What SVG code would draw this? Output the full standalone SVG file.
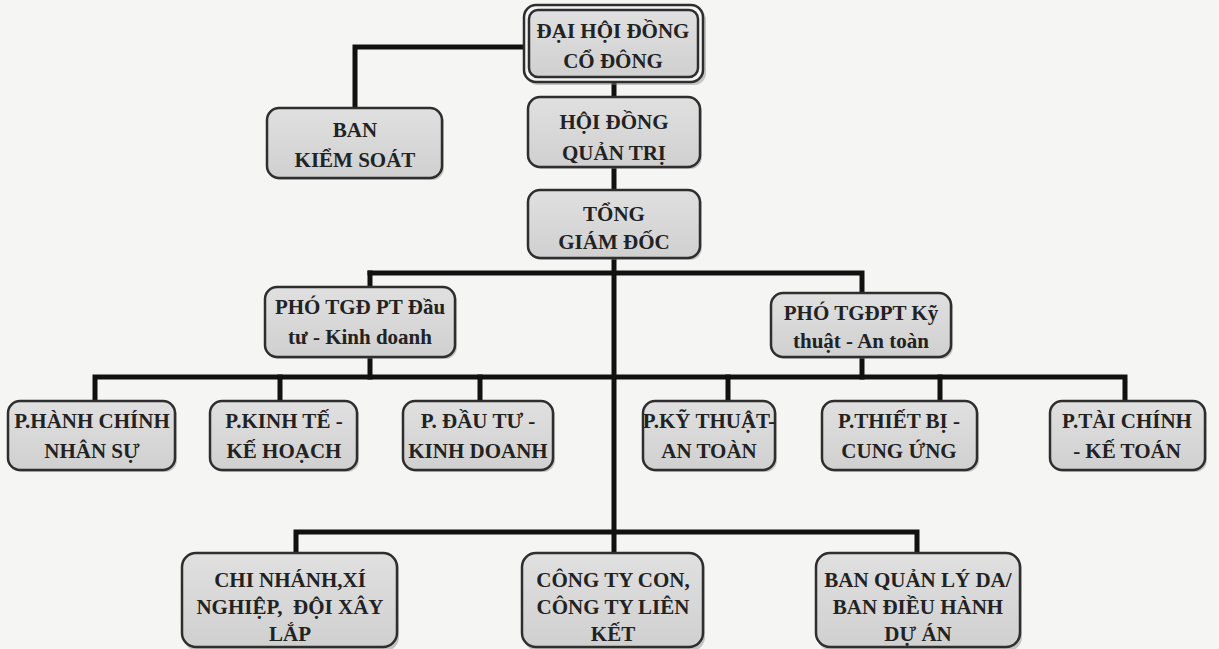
<svg xmlns="http://www.w3.org/2000/svg" width="1219" height="649" viewBox="0 0 1219 649">
<defs>
<linearGradient id="g" x1="0" y1="0" x2="0" y2="1">
<stop offset="0" stop-color="#e0e0e0"/>
<stop offset="1" stop-color="#d0d0d0"/>
</linearGradient>
<style>
.box{fill:url(#g);stroke:#2e2e2e;stroke-width:2.5}
.sh{fill:#8a8a8a;opacity:0.45}
.t{font-family:"Liberation Serif","Times New Roman",serif;font-weight:bold;font-size:21px;fill:#222;text-anchor:middle}
.c{fill:none;stroke:#111;stroke-width:5;stroke-linejoin:miter;stroke-linecap:square}
</style>
</defs>
<rect width="1219" height="649" fill="#f5f5f3"/>
<g id="connectors">
<path class="c" d="M524 47 H355 V106"/>
<path class="c" d="M614 83 V96"/>
<path class="c" d="M614 168 V189"/>
<path class="c" d="M614 259 V551"/>
<path class="c" d="M370 273 H862 V291"/>
<path class="c" d="M370 273 V285"/>
<path class="c" d="M370 358 V377"/>
<path class="c" d="M862 358 V377"/>
<path class="c" d="M95 400 V377 H1125 V400"/>
<path class="c" d="M280 377 V400"/>
<path class="c" d="M480 377 V400"/>
<path class="c" d="M728 377 V400"/>
<path class="c" d="M940 377 V400"/>
<path class="c" d="M296 551 V532 H917 V551"/>
</g>
<g id="dhdcd">
<rect class="sh" x="526" y="8" width="180" height="77" rx="12"/>
<rect x="524" y="5" width="179" height="77" rx="12" fill="#f4f4f4" stroke="#2e2e2e" stroke-width="2.5"/>
<rect class="box" x="529" y="10" width="169" height="67" rx="9"/>
<text class="t" x="613" y="38">ĐẠI HỘI ĐỒNG</text>
<text class="t" x="613" y="68">CỔ ĐÔNG</text>
</g>
<g id="bks">
<rect class="sh" x="269" y="110" width="175" height="70" rx="12"/>
<rect class="box" x="267" y="108" width="175" height="70" rx="12"/>
<text class="t" x="355" y="137">BAN</text>
<text class="t" x="355" y="167">KIỂM SOÁT</text>
</g>
<g id="hdqt">
<rect class="sh" x="530" y="99" width="172" height="70" rx="12"/>
<rect class="box" x="528" y="97" width="172" height="70" rx="12"/>
<text class="t" x="614" y="129">HỘI ĐỒNG</text>
<text class="t" x="614" y="160">QUẢN TRỊ</text>
</g>
<g id="tgd">
<rect class="sh" x="530" y="192" width="172" height="68" rx="12"/>
<rect class="box" x="528" y="190" width="172" height="68" rx="12"/>
<text class="t" x="614" y="221">TỔNG</text>
<text class="t" x="614" y="249">GIÁM ĐỐC</text>
</g>
<g id="pho1">
<rect class="sh" x="267" y="289" width="190" height="70" rx="12"/>
<rect class="box" x="265" y="287" width="190" height="70" rx="12"/>
<text class="t" x="360" y="314">PHÓ TGĐ PT Đầu</text>
<text class="t" x="360" y="344">tư - Kinh doanh</text>
</g>
<g id="pho2">
<rect class="sh" x="773" y="295" width="180" height="64" rx="12"/>
<rect class="box" x="771" y="293" width="180" height="64" rx="12"/>
<text class="t" x="861" y="320">PHÓ TGĐPT Kỹ</text>
<text class="t" x="861" y="348">thuật - An toàn</text>
</g>
<g id="hcns">
<rect class="sh" x="10" y="403" width="167" height="69" rx="12"/>
<rect class="box" x="8" y="401" width="167" height="69" rx="12"/>
<text class="t" x="92" y="428">P.HÀNH CHÍNH</text>
<text class="t" x="92" y="458">NHÂN SỰ</text>
</g>
<g id="ktkh">
<rect class="sh" x="212" y="403" width="147" height="69" rx="12"/>
<rect class="box" x="210" y="401" width="147" height="69" rx="12"/>
<text class="t" x="284" y="428">P.KINH TẾ -</text>
<text class="t" x="284" y="458">KẾ HOẠCH</text>
</g>
<g id="dtkd">
<rect class="sh" x="405" y="403" width="150" height="69" rx="12"/>
<rect class="box" x="403" y="401" width="150" height="69" rx="12"/>
<text class="t" x="478" y="428">P. ĐẦU TƯ -</text>
<text class="t" x="478" y="458">KINH DOANH</text>
</g>
<g id="ktat">
<rect class="sh" x="645" y="403" width="132" height="69" rx="12"/>
<rect class="box" x="643" y="401" width="132" height="69" rx="12"/>
<text class="t" x="709" y="428">P.KỸ THUẬT-</text>
<text class="t" x="709" y="458">AN TOÀN</text>
</g>
<g id="tbcu">
<rect class="sh" x="824" y="403" width="155" height="69" rx="12"/>
<rect class="box" x="822" y="401" width="155" height="69" rx="12"/>
<text class="t" x="899" y="428">P.THIẾT BỊ -</text>
<text class="t" x="899" y="458">CUNG ỨNG</text>
</g>
<g id="tckt">
<rect class="sh" x="1052" y="403" width="155" height="69" rx="12"/>
<rect class="box" x="1050" y="401" width="155" height="69" rx="12"/>
<text class="t" x="1127" y="428">P.TÀI CHÍNH</text>
<text class="t" x="1127" y="458">- KẾ TOÁN</text>
</g>
<g id="cnxn">
<rect class="sh" x="184" y="555" width="215" height="96" rx="14"/>
<rect class="box" x="182" y="553" width="215" height="94" rx="14"/>
<text class="t" x="290" y="587">CHI NHÁNH,XÍ</text>
<text class="t" x="290" y="614" xml:space="preserve">NGHIỆP,  ĐỘI XÂY</text>
<text class="t" x="290" y="641">LẮP</text>
</g>
<g id="ctcon">
<rect class="sh" x="524" y="555" width="181" height="96" rx="14"/>
<rect class="box" x="522" y="553" width="181" height="94" rx="14"/>
<text class="t" x="613" y="587">CÔNG TY CON,</text>
<text class="t" x="613" y="614">CÔNG TY LIÊN</text>
<text class="t" x="613" y="641">KẾT</text>
</g>
<g id="bqlda">
<rect class="sh" x="818" y="555" width="204" height="96" rx="14"/>
<rect class="box" x="816" y="553" width="204" height="94" rx="14"/>
<text class="t" x="918" y="587">BAN QUẢN LÝ DA/</text>
<text class="t" x="918" y="614">BAN ĐIỀU HÀNH</text>
<text class="t" x="918" y="641">DỰ ÁN</text>
</g>
</svg>
